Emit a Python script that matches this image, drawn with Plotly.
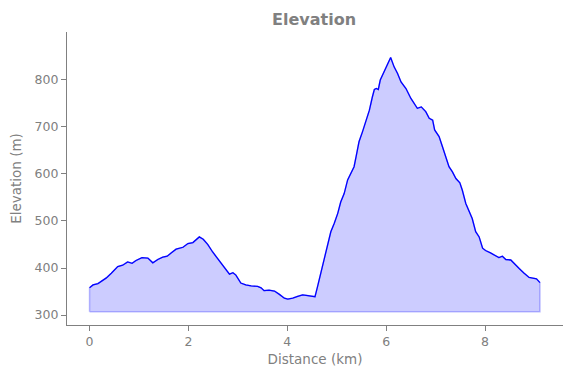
import plotly.graph_objects as go

distance_km = [0.00, 0.07, 0.17, 0.23, 0.34, 0.44, 0.57, 0.67, 0.77, 0.86, 0.94, 1.06, 1.18, 1.28, 1.38, 1.48,
               1.57, 1.65, 1.75, 1.89, 1.99, 2.09, 2.19, 2.22, 2.30, 2.39, 2.49, 2.59, 2.69, 2.79, 2.83, 2.90,
               2.96, 3.06, 3.16, 3.27, 3.40, 3.47, 3.53, 3.63, 3.74, 3.84, 3.94, 4.01, 4.11, 4.21, 4.31, 4.38,
               4.48, 4.56, 4.61, 4.68, 4.75, 4.81, 4.88, 4.95, 5.02, 5.08, 5.15, 5.22, 5.29, 5.35, 5.39, 5.45,
               5.52, 5.59, 5.66, 5.72, 5.76, 5.80, 5.84, 5.88, 5.93, 5.99, 6.06, 6.09, 6.16, 6.23, 6.30, 6.40,
               6.50, 6.56, 6.63, 6.71, 6.80, 6.87, 6.94, 6.98, 7.07, 7.14, 7.20, 7.27, 7.34, 7.41, 7.49, 7.54,
               7.61, 7.68, 7.74, 7.81, 7.88, 7.95, 8.01, 8.11, 8.21, 8.28, 8.35, 8.42, 8.52, 8.58, 8.69, 8.79,
               8.89, 8.99, 9.04, 9.11]
elevation_m = [358, 364, 367, 371, 379, 389, 403, 406, 413, 410, 416, 422, 421, 411, 418, 423,
               425, 432, 440, 444, 452, 454, 464, 466, 461, 450, 434, 420, 405, 392, 387, 390,
               385, 368, 364, 362, 361, 358, 352, 353, 351, 344, 336, 334, 336, 340, 343, 342,
               340, 339, 360, 389, 424, 445, 477, 495, 516, 540, 558, 587, 604, 615, 636, 668,
               689, 710, 735, 763, 779, 781, 779, 799, 810, 824, 838, 847, 827, 813, 795, 781,
               760, 749, 739, 742, 732, 718, 714, 693, 679, 657, 636, 615, 604, 590, 581, 565,
               537, 519, 505, 477, 466, 442, 437, 432, 425, 422, 425, 418, 417, 410, 399, 389,
               380, 378, 377, 369]
fill_baseline_m = 307
x_ticks = [0, 2, 4, 6, 8]
y_ticks = [300, 400, 500, 600, 700, 800]

GRAY = "#808080"
FONT = "DejaVu Sans"

poly_x = [distance_km[0]] + distance_km + [distance_km[-1], distance_km[0]]
poly_y = [fill_baseline_m] + elevation_m + [fill_baseline_m, fill_baseline_m]

fig = go.Figure()
fig.add_trace(go.Scatter(x=poly_x, y=poly_y, mode="lines", fill="toself",
                         fillcolor="rgba(0,0,255,0.2)",
                         line=dict(color="rgba(0,0,255,0.25)", width=1.5),
                         hoverinfo="skip", showlegend=False))
fig.add_trace(go.Scatter(x=distance_km, y=elevation_m, mode="lines",
                         line=dict(color="#0000ff", width=1.3), showlegend=False))

fig.update_layout(
    width=571, height=378,
    margin=dict(l=67, r=8, t=32, b=53),
    plot_bgcolor="white", paper_bgcolor="white",
    font=dict(family=FONT, color=GRAY, size=12.5),
    title=dict(text="<b>Elevation</b>", x=0.55, xanchor="center", y=0.95, yanchor="middle",
               yref="container", font=dict(family=FONT, size=16, color=GRAY)),
)
fig.update_xaxes(range=[-0.456, 9.576], tickvals=x_ticks, ticks="outside", ticklen=5,
                 tickcolor=GRAY, showline=True, linecolor=GRAY, linewidth=1.2,
                 showgrid=False, zeroline=False, automargin=False,
                 title=dict(text="Distance (km)", font=dict(size=13.5, color=GRAY), standoff=6))
fig.update_yaxes(range=[279, 901], tickvals=y_ticks, ticks="outside", ticklen=5,
                 tickcolor=GRAY, showline=True, linecolor=GRAY, linewidth=1.2,
                 showgrid=False, zeroline=False, automargin=False,
                 title=dict(text="Elevation (m)", font=dict(size=13.5, color=GRAY), standoff=9))

fig.write_html("out.html", config={"displayModeBar": False},
               post_script="document.body.style.margin='0';")
